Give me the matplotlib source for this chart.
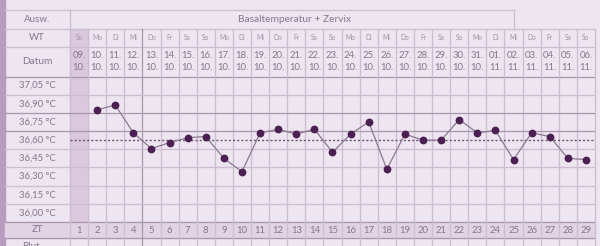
import matplotlib
matplotlib.use("Agg")
import matplotlib.pyplot as plt
from matplotlib.patches import Rectangle
import numpy as np

plt.rcParams['font.family'] = ['Lato', 'DejaVu Sans']

# ---- data ----
weekdays = ["So", "Mo", "Di", "Mi", "Do", "Fr", "Sa", "So", "Mo", "Di", "Mi", "Do", "Fr", "Sa",
            "So", "Mo", "Di", "Mi", "Do", "Fr", "Sa", "So", "Mo", "Di", "Mi", "Do", "Fr", "Sa", "So"]
day_of_month = ["09", "10", "11", "12", "13", "14", "15", "16", "17", "18", "19", "20", "21", "22",
                "23", "24", "25", "26", "27", "28", "29", "30", "31", "01", "02", "03", "04", "05", "06"]
months = ["10"] * 23 + ["11"] * 6
cycle_days = list(range(1, 30))
temps = [None, 36.85, 36.89, 36.66, 36.53, 36.58, 36.62, 36.63, 36.45, 36.34,
         36.66, 36.69, 36.65, 36.69, 36.50, 36.65, 36.75, 36.36, 36.65, 36.60,
         36.60, 36.77, 36.66, 36.68, 36.44, 36.66, 36.63, 36.45, 36.44]
temp_ticks = [37.05, 36.90, 36.75, 36.60, 36.45, 36.30, 36.15, 36.00]
coverline = 36.60
title = "Basaltemperatur + Zervix"

# ---- style ----
W, H = 600, 246
bg = "#ede5ef"
shade = "#dac8de"
zt_bg = "#e1d2e4"
grid = "#cdbdd0"
dark = "#a897ac"
txt = "#86778c"
strip = "#b89bbe"

x0, x1 = 70, 595
ncol = len(cycle_days)
cw = (x1 - x0) / ncol
y_top, y_ausw, y_wt, y_dat, y_plot_bot, y_zt_bot = 10, 28.5, 46.5, 76.5, 222, 238

fig = plt.figure(figsize=(W / 100, H / 100), dpi=100, facecolor=bg)
ax = fig.add_axes([0, 0, 1, 1])
ax.set_xlim(0, W)
ax.set_ylim(H, 0)
ax.axis("off")
ax.add_patch(Rectangle((0, 0), W, H, color=bg, zorder=0))

# left strip
ax.add_patch(Rectangle((0, 0), 4.5, H, color=strip, zorder=1))
# column 1 shading
ax.add_patch(Rectangle((x0, y_ausw), cw, y_plot_bot - y_ausw, color=shade, zorder=1))
# ZT row
ax.add_patch(Rectangle((4.5, y_plot_bot), x1 - 4.5, y_zt_bot - y_plot_bot, color=zt_bg, zorder=1))

# horizontal lines
lw = 0.9
ax.plot([4.5, 514], [y_top, y_top], color=grid, lw=lw, zorder=2)
ax.plot([514, 514], [y_top, y_ausw], color=grid, lw=lw, zorder=2)
for yy, c in [(y_ausw, grid), (y_wt, grid), (y_dat, dark), (y_plot_bot, dark), (y_zt_bot, dark)]:
    ax.plot([4.5, x1], [yy, yy], color=c, lw=lw, zorder=2)
# vertical lines
ax.plot([x0, x0], [y_top, H], color=grid, lw=lw, zorder=2)
for i in range(1, ncol + 1):
    xx = x0 + i * cw
    c = dark if i == 4 else grid
    ax.plot([xx, xx], [y_ausw, H], color=c, lw=lw, zorder=2)

# header texts
lx = 37
fs = 7.0
ax.text(lx, (y_top + y_ausw) / 2, "Ausw.", ha="center", va="center", fontsize=fs, color=txt)
ax.text(lx, (y_ausw + y_wt) / 2, "WT", ha="center", va="center", fontsize=fs, color=txt)
ax.text(lx, (y_wt + y_dat) / 2, "Datum", ha="center", va="center", fontsize=fs + 0.3, color=txt)
ax.text((x0 + 514) / 2 + 2, (y_top + y_ausw) / 2, title, ha="center", va="center", fontsize=fs + 0.3, color=txt)
ax.text(lx, (y_plot_bot + y_zt_bot) / 2, "ZT", ha="center", va="center", fontsize=fs, color=txt)
ax.text(lx - 6, 246.5, "Blut", ha="center", va="center", fontsize=fs, color=txt)

for i in range(ncol):
    cx = x0 + (i + 0.5) * cw
    ax.text(cx, (y_ausw + y_wt) / 2, weekdays[i], ha="center", va="center", fontsize=4.8, color="#a193a6")
    ax.text(cx, 55.5, day_of_month[i] + ".", ha="center", va="center", fontsize=6.8, color=txt)
    ax.text(cx, 67, months[i] + ".", ha="center", va="center", fontsize=6.8, color=txt)
    ax.text(cx, (y_plot_bot + y_zt_bot) / 2 + 0.5, str(cycle_days[i]), ha="center", va="center",
            fontsize=6.8, color=txt)

# temperature labels
step = 0.15
ylo = min(temp_ticks) - step / 2
yhi = max(temp_ticks) + step / 2
for t in temp_ticks:
    ypix = y_dat + (yhi - t) / (yhi - ylo) * (y_plot_bot - y_dat)
    ax.text(lx, ypix, f"{t:.2f}".replace(".", ",") + " °C", ha="center", va="center",
            fontsize=6.8, color=txt)
    if t != min(temp_ticks):
        c = dark if t in (36.90, 36.75) else grid
        ax.plot([4.5, x0], [ypix + 9.06, ypix + 9.06], color=c, lw=lw, zorder=2)

# ---- plot axes ----
pax = fig.add_axes([x0 / W, 1 - y_plot_bot / H, (x1 - x0) / W, (y_plot_bot - y_dat) / H])
pax.patch.set_alpha(0)
pax.set_xlim(0.5, ncol + 0.5)
pax.set_ylim(ylo, yhi)
pax.axis("off")
for k in range(1, len(temp_ticks)):
    yg = ylo + k * step
    c = dark if k in (5, 6) else grid
    pax.axhline(yg, color=c, lw=lw, zorder=2)

pax.axhline(coverline, color="#6b5571", lw=1.0, ls=(0, (1.5, 1.5)), zorder=3)

xs = [d for d, t in zip(cycle_days, temps) if t is not None]
ys = [t for t in temps if t is not None]
pax.plot(xs, ys, color="#8c7892", lw=0.9, zorder=4)
pax.plot(xs, ys, ls="none", marker="o", ms=4.6, color="#4b1f52", zorder=5)

fig.savefig("out.png", dpi=100, facecolor=bg)
